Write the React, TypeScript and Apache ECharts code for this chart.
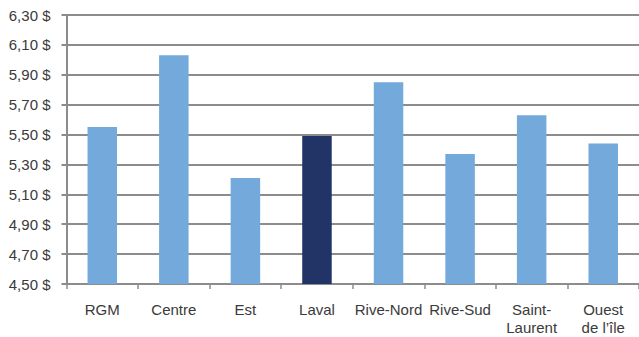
import React, { useEffect, useRef } from "react";
import * as echarts from "echarts";

const categories = ["RGM", "Centre", "Est", "Laval", "Rive-Nord", "Rive-Sud", "Saint-\nLaurent", "Ouest\nde l’île"];
const values = [5.55, 6.03, 5.21, 5.49, 5.85, 5.37, 5.63, 5.44];
const highlighted = "Laval";
const yMin = 4.5;
const yMax = 6.3;
const yStep = 0.2;

const LIGHT = "#73a9db";
const DARK = "#223366";
const GRID = "#8c8c8c";
const FONT = "'Liberation Sans', Arial, Helvetica, sans-serif";

export default function App() {
  const ref = useRef<HTMLDivElement>(null);
  useEffect(() => {
    if (!ref.current) return;
    const chart = echarts.init(ref.current, null, { renderer: "svg" });
    chart.setOption({
      animation: false,
      grid: { left: 66.5, right: 0, top: 15, bottom: 52, containLabel: false },
      xAxis: {
        type: "category",
        data: categories,
        axisLine: { show: true, lineStyle: { color: GRID, width: 2 } },
        axisTick: { show: true, length: 5, alignWithLabel: false, lineStyle: { color: GRID, width: 1.5 } },
        axisLabel: {
          interval: 0,
          margin: 16,
          fontSize: 15,
          lineHeight: 18.5,
          color: "#3a3a3a",
          fontFamily: FONT,
        },
      },
      yAxis: {
        type: "value",
        min: yMin,
        max: yMax,
        interval: yStep,
        axisLine: { show: true, lineStyle: { color: GRID, width: 2 } },
        axisTick: { show: true, length: 5, lineStyle: { color: GRID, width: 2 } },
        splitLine: { show: true, lineStyle: { color: GRID, width: 2 } },
        axisLabel: {
          margin: 16,
          fontSize: 15,
          color: "#3a3a3a",
          fontFamily: FONT,
          formatter: (v: number) => v.toFixed(2).replace(".", ",") + " $",
        },
      },
      series: [
        {
          type: "bar",
          barWidth: 29.5,
          data: values.map((v, i) => ({
            value: v,
            itemStyle: { color: categories[i] === highlighted ? DARK : LIGHT },
          })),
        },
      ],
    });
    return () => chart.dispose();
  }, []);
  return (
    <div
      ref={ref}
      style={{ position: "fixed", left: 0, top: 0, width: 639, height: 337, background: "#fff" }}
    />
  );
}
